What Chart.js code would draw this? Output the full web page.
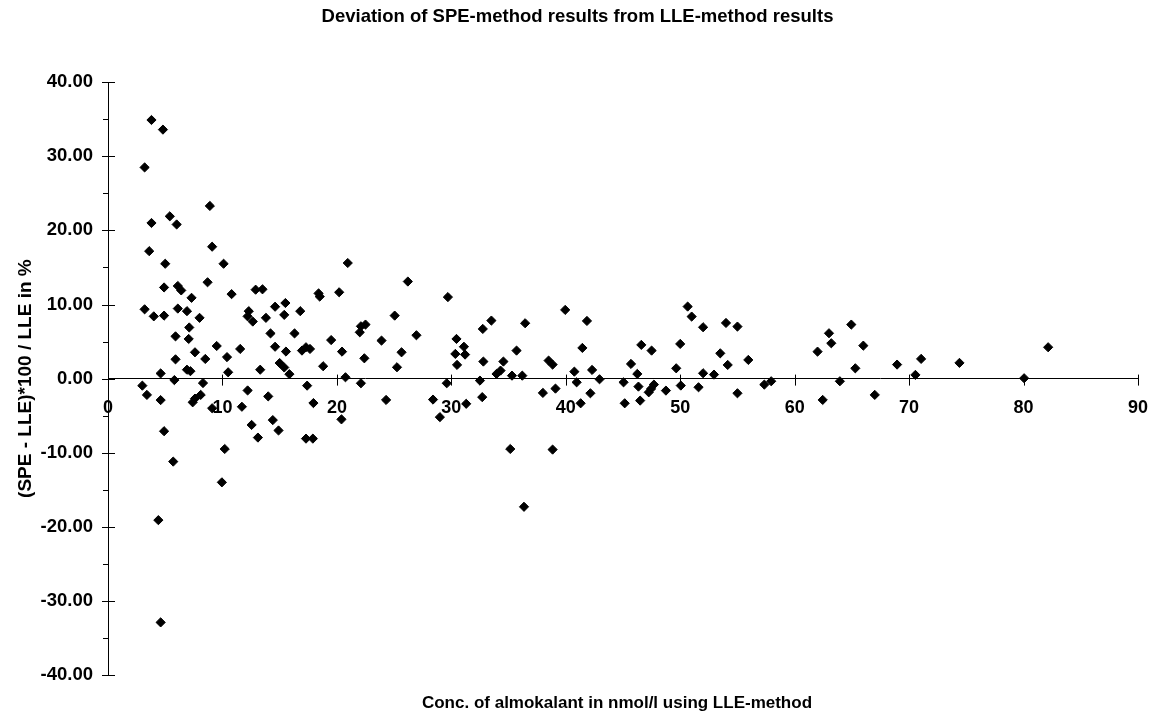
<!DOCTYPE html>
<html>
<head>
<meta charset="utf-8">
<title>Deviation of SPE-method results from LLE-method results</title>
<script src="https://cdn.jsdelivr.net/npm/chart.js@4.4.1/dist/chart.umd.min.js"></script>
<style>
  html, body { margin: 0; padding: 0; background: #fff; }
</style>
</head>
<body>
<canvas id="devChart" width="1167" height="716"></canvas>
<script>
// conc. by LLE (nmol/l) and deviation (%), same order
const concLLE = [
  3.0, 3.2, 3.2, 3.4, 3.6, 3.8, 3.8, 4.0, 4.4, 4.6,
  4.6, 4.6, 4.8, 4.9, 4.9, 4.9, 5.0, 5.4, 5.7, 5.8,
  5.9, 5.9, 6.0, 6.1, 6.1, 6.4, 6.9, 6.9, 7.05, 7.1,
  7.2, 7.3, 7.4, 7.6, 7.6, 8.0, 8.1, 8.3, 8.5, 8.7,
  8.9, 9.1, 9.1, 9.5, 9.95, 10.1, 10.2, 10.4, 10.5, 10.8,
  11.55, 11.7, 12.2, 12.2, 12.3, 12.55, 12.65, 12.9, 13.1, 13.3,
  13.5, 13.8, 14.0, 14.2, 14.4, 14.6, 14.6, 14.9, 15.0, 15.4,
  15.4, 15.5, 15.55, 15.85, 16.3, 16.8, 16.95, 17.3, 17.3, 17.4,
  17.65, 17.9, 17.95, 18.4, 18.5, 18.8, 19.5, 20.2, 20.4, 20.45,
  20.75, 20.95, 22.0, 22.1, 22.1, 22.4, 22.5, 23.9, 24.3, 25.05,
  25.25, 25.65, 26.2, 26.95, 28.4, 29.0, 29.6, 29.7, 30.35, 30.45,
  30.5, 31.1, 31.2, 31.3, 32.5, 32.7, 32.75, 32.8, 33.5, 33.95,
  34.3, 34.55, 35.15, 35.3, 35.7, 36.2, 36.35, 36.45, 38.0, 38.5,
  38.85, 38.85, 39.1, 39.95, 40.75, 40.95, 41.3, 41.45, 41.85, 42.15,
  42.3, 42.95, 45.05, 45.15, 45.7, 46.25, 46.35, 46.5, 46.6, 47.25,
  47.45, 47.5, 47.7, 48.75, 49.65, 50.0, 50.05, 50.65, 51.0, 51.6,
  52.0, 52.0, 52.95, 53.5, 54.0, 54.15, 55.0, 55.0, 55.95, 57.35,
  57.95, 62.0, 62.45, 63.0, 63.2, 63.95, 64.95, 65.3, 66.0, 67.0,
  68.95, 70.55, 71.05, 74.4, 80.05, 82.15
];
const deviationPct = [
  -0.95, 28.5, 9.35, -2.2, 17.2, 34.9, 21.0, 8.4, -19.1, 0.7,
  -2.9, -32.9, 33.6, -7.1, 12.3, 8.5, 15.5, 21.9, -11.2, -0.2,
  5.7, 2.6, 20.8, 9.45, 12.5, 11.9, 1.2, 9.1, 5.35, 6.9,
  1.0, 10.9, -3.2, 3.55, -2.7, 8.2, -2.2, -0.6, 2.65, 13.0,
  23.3, 17.8, -4.0, 4.4, -14.0, 15.5, -9.5, 2.9, 0.85, 11.4,
  4.0, -3.8, 8.4, -1.6, 9.1, -6.25, 7.7, 12.0, -7.96, 1.2,
  12.05, 8.2, -2.4, 6.1, -5.6, 9.7, 4.3, -7.0, 2.1, 8.6,
  1.5, 10.2, 3.65, 0.6, 6.1, 9.1, 3.78, 4.23, -8.1, -0.95,
  4.0, -8.1, -3.3, 11.5, 11.07, 1.67, 5.2, 11.65, -5.5, 3.64,
  0.18, 15.6, 6.25, 7.06, -0.63, 2.74, 7.29, 5.13, -2.88, 8.5,
  1.53, 3.55, 13.1, 5.85, -2.83, -5.2, -0.63, 11.0, 3.33, 5.35,
  1.85, 4.3, 3.24, -3.4, -0.27, -2.5, 6.7, 2.3, 7.83, 0.63,
  1.08, 2.3, -9.5, 0.4, 3.78, 0.4, -17.3, 7.47, -1.93, 2.43,
  1.89, -9.58, -1.35, 9.27, 0.94, -0.5, -3.33, 4.14, 7.78, -1.98,
  1.17, -0.09, -0.5, -3.33, 1.98, 0.63, -1.08, -2.97, 4.55, -1.85,
  -1.39, 3.78, -0.81, -1.62, 1.39, 4.68, -0.94, 9.72, 8.37, -1.17,
  6.93, 0.72, 0.54, 3.41, 7.51, 1.84, 7.02, -1.98, 2.52, -0.81,
  -0.36, 3.64, -2.88, 6.12, 4.77, -0.36, 7.29, 1.39, 4.45, -2.2,
  1.89, 0.5, 2.66, 2.12, 0.05, 4.23
];

const xTickValues = [0, 10, 20, 30, 40, 50, 60, 70, 80, 90];
const yTickValues = [-40, -30, -20, -10, 0, 10, 20, 30, 40];
const yMinorTicks = [-35, -25, -15, -5, 5, 15, 25, 35];
const xAxisTitle = "Conc. of almokalant in nmol/l using LLE-method";

const fontFamily = "'Liberation Sans', Arial, sans-serif";

// tick marks crossing the axes + the x axis title under the plot
const axisMarks = {
  id: "axisMarks",
  afterDraw(chart) {
    const { ctx, chartArea, scales: { x, y } } = chart;
    const x0 = x.getPixelForValue(0);
    const y0 = y.getPixelForValue(0);
    ctx.save();
    ctx.strokeStyle = "#000";
    ctx.lineWidth = 1;
    ctx.beginPath();
    yTickValues.forEach((v) => {
      const py = Math.round(y.getPixelForValue(v)) + 0.5;
      ctx.moveTo(x0 - 6, py);
      ctx.lineTo(x0 + 7, py);
    });
    yMinorTicks.forEach((v) => {
      const py = Math.round(y.getPixelForValue(v)) + 0.5;
      ctx.moveTo(x0 - 5, py);
      ctx.lineTo(x0, py);
    });
    xTickValues.slice(1).forEach((v) => {
      const px = Math.round(x.getPixelForValue(v)) + 0.5;
      ctx.moveTo(px, y0 - 4);
      ctx.lineTo(px, y0 + 7);
    });
    ctx.stroke();

    ctx.fillStyle = "#000";
    ctx.font = "bold 17px " + fontFamily;
    ctx.textAlign = "center";
    ctx.textBaseline = "middle";
    ctx.fillText(xAxisTitle, (chartArea.left + chartArea.right) / 2 - 6, chartArea.bottom + 28);
    ctx.restore();
  },
};

new Chart(document.getElementById("devChart"), {
  type: "scatter",
  data: {
    datasets: [
      {
        label: "Deviation",
        data: concLLE.map((c, i) => ({ x: c, y: deviationPct[i] })),
        pointStyle: "rectRot",
        pointRadius: 4.6,
        pointHoverRadius: 4.6,
        backgroundColor: "#000",
        borderColor: "#000",
        borderWidth: 1,
      },
    ],
  },
  options: {
    responsive: false,
    animation: false,
    events: [],
    layout: { padding: { left: 0, right: 12, top: 0, bottom: 41 } },
    plugins: {
      legend: { display: false },
      tooltip: { enabled: false },
      title: {
        display: true,
        text: "Deviation of SPE-method results from LLE-method results",
        color: "#000",
        font: { family: fontFamily, size: 18.5, weight: "bold" },
        padding: { top: 6, bottom: 54 },
      },
    },
    scales: {
      x: {
        type: "linear",
        position: { y: 0 },
        min: 0,
        max: 90,
        afterBuildTicks: (s) => { s.ticks = xTickValues.map((v) => ({ value: v })); },
        ticks: { color: "#000", font: { family: fontFamily, size: 18, weight: "bold" }, padding: 19, maxRotation: 0 },
        grid: { display: true, drawOnChartArea: false, drawTicks: false },
        border: { display: true, color: "#000", width: 1 },
      },
      y: {
        type: "linear",
        position: "left",
        min: -40,
        max: 40,
        afterBuildTicks: (s) => { s.ticks = yTickValues.map((v) => ({ value: v })); },
        afterFit: (s) => { s.width = 108; },
        ticks: {
          color: "#000",
          font: { family: fontFamily, size: 18.5, weight: "bold" },
          padding: 15,
          callback: (v) => Number(v).toFixed(2),
        },
        grid: { display: true, drawOnChartArea: false, drawTicks: false },
        border: { display: true, color: "#000", width: 1 },
        title: {
          display: true,
          text: "(SPE - LLE)*100 / LLE in %",
          color: "#000",
          font: { family: fontFamily, size: 19, weight: "bold" },
          padding: { top: 14, bottom: 4 },
        },
      },
    },
  },
  plugins: [axisMarks],
});
</script>
</body>
</html>
